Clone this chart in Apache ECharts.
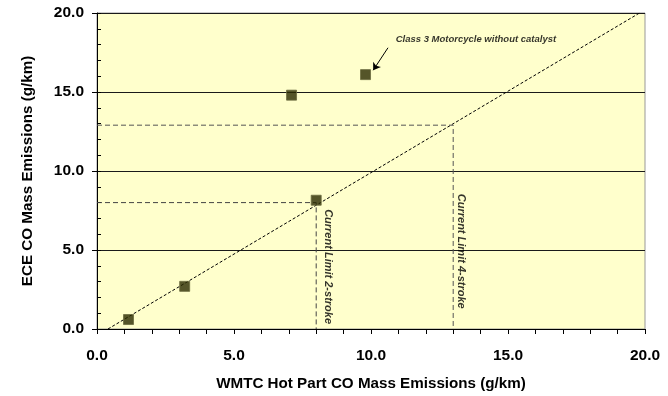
<!DOCTYPE html>
<html>
<head>
<meta charset="utf-8">
<script src="https://cdn.jsdelivr.net/npm/echarts@6/dist/echarts.min.js"></script>
<style>
  html, body { margin: 0; padding: 0; background: #ffffff; }
  #chart { width: 668px; height: 396px; }
</style>
</head>
<body>
<div id="chart"></div>
<script>
// Measured vehicles: WMTC hot part CO vs ECE CO (g/km)
const wmtcCO = [1.15, 3.2, 7.1, 8.0, 9.8];
const eceCO = [0.6, 2.7, 14.8, 8.15, 16.1];

// Regression line end points
const fitX = [0.4, 19.8];
const fitY = [0.0, 20.0];

// Current limits (WMTC value, ECE value)
const limit2 = { wmtc: 8.0, ece: 8.0, label: 'Current Limit 2-stroke' };
const limit4 = { wmtc: 13.0, ece: 12.9, label: 'Current Limit 4-stroke' };

// Annotation for the uncatalysed class 3 motorcycle
const noteText = 'Class 3 Motorcycle without catalyst';
const noteAt = [10.9, 18.35];
const arrowFrom = [10.62, 17.8];
const arrowTo = [10.08, 16.38];

const axisTicks = [0, 5, 10, 15, 20];

const font = '"Liberation Sans", Arial, sans-serif';

function limitPath(l) {
  return [[0, l.ece], [l.wmtc, l.ece], [l.wmtc, 0]];
}

const chart = echarts.init(document.getElementById('chart'), null, { renderer: 'canvas' });

const tickLabel = {
  fontFamily: font, fontWeight: 'bold', fontSize: 15.5, color: '#000',
  formatter: v => v.toFixed(1)
};

chart.setOption({
  animation: false,
  backgroundColor: '#ffffff',
  grid: {
    left: 97, top: 13, right: 23, bottom: 66,
    show: true, backgroundColor: '#FFFFCC', borderColor: '#999999', borderWidth: 1
  },
  xAxis: {
    type: 'value', min: axisTicks[0], max: axisTicks[axisTicks.length - 1], interval: 5,
    name: 'WMTC Hot Part CO Mass Emissions (g/km)',
    nameLocation: 'middle', nameGap: 47,
    nameTextStyle: { fontFamily: font, fontWeight: 'bold', fontSize: 15.2, color: '#000' },
    axisLine: { show: true, lineStyle: { color: '#000', width: 1 } },
    axisTick: { show: true, length: 5, lineStyle: { color: '#000' } },
    minorTick: { show: true, splitNumber: 5, length: 5, lineStyle: { color: '#000' } },
    axisLabel: Object.assign({ margin: 19 }, tickLabel),
    splitLine: { show: false }
  },
  yAxis: [{
    type: 'value', min: axisTicks[0], max: axisTicks[axisTicks.length - 1], interval: 5,
    name: 'ECE CO Mass Emissions (g/km)',
    nameLocation: 'middle', nameGap: 62,
    nameTextStyle: { fontFamily: font, fontWeight: 'bold', fontSize: 15.2, color: '#000' },
    axisLine: { show: true, lineStyle: { color: '#000', width: 1 } },
    axisTick: { show: true, length: 5, lineStyle: { color: '#000' } },
    axisLabel: Object.assign({ margin: 13 }, tickLabel),
    splitLine: { show: true, lineStyle: { color: '#1a1a1a', width: 1 } }
  }, {
    // inner minor ticks on the value axis
    type: 'value', min: 0, max: 20, interval: 1, position: 'left',
    axisLine: { show: false },
    axisTick: { show: true, inside: true, length: 4, lineStyle: { color: '#000' } },
    axisLabel: { show: false },
    splitLine: { show: false }
  }],
  series: [
    {
      type: 'line', name: 'fit',
      data: fitX.map((x, i) => [x, fitY[i]]),
      symbol: 'none', silent: true,
      lineStyle: { color: '#000', width: 1, type: [3, 2] },
      z: 2
    },
    {
      type: 'line', name: 'limit2',
      data: limitPath(limit2), symbol: 'none', silent: true,
      lineStyle: { color: '#444', width: 1, type: [5, 3] }, z: 2
    },
    {
      type: 'line', name: 'limit4',
      data: limitPath(limit4), symbol: 'none', silent: true,
      lineStyle: { color: '#555', width: 1, type: [5, 3] }, z: 2
    },
    {
      type: 'scatter', name: 'vehicles',
      data: wmtcCO.map((x, i) => [x, eceCO[i]]),
      symbol: 'rect', symbolSize: 10,
      itemStyle: { color: '#2b2b00', borderColor: '#6b6b40', borderWidth: 1 },
      z: 5
    },
    {
      // text annotations placed in data coordinates
      type: 'scatter', name: 'notes', symbol: 'circle', symbolSize: 1, silent: true, z: 6,
      itemStyle: { color: 'transparent' },
      data: [
        {
          value: noteAt,
          label: { show: true, formatter: noteText, position: 'inside', align: 'left',
            verticalAlign: 'middle', fontSize: 9.5 }
        },
        {
          value: [limit2.wmtc + 0.45, 3.95],
          label: { show: true, formatter: limit2.label, position: 'inside', rotate: -90,
            align: 'center', verticalAlign: 'middle', fontSize: 11 }
        },
        {
          value: [limit4.wmtc + 0.27, 4.92],
          label: { show: true, formatter: limit4.label, position: 'inside', rotate: -90,
            align: 'center', verticalAlign: 'middle', fontSize: 11 }
        }
      ],
      label: { fontFamily: font, fontWeight: 'bold', fontStyle: 'italic', color: '#000' },
      markLine: {
        silent: true, symbol: ['none', 'arrow'], symbolSize: 7,
        label: { show: false },
        lineStyle: { color: '#000', width: 1, type: 'solid' },
        data: [[{ coord: arrowFrom }, { coord: arrowTo }]]
      }
    }
  ]
});
</script>
</body>
</html>
